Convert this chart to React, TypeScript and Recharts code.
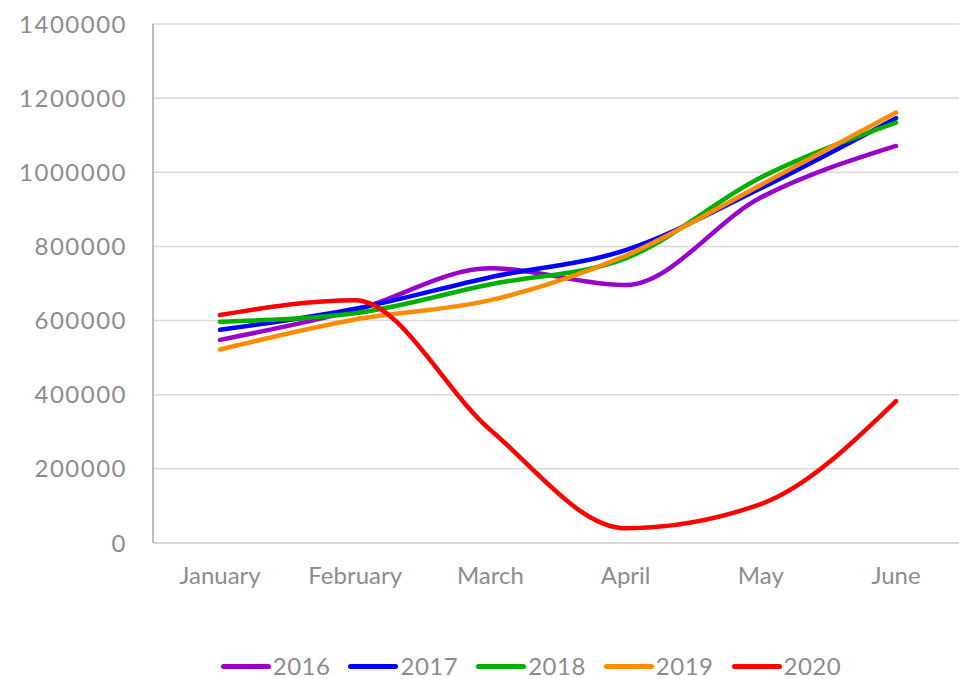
import React from 'react';
import { LineChart, Line, XAxis, YAxis, CartesianGrid } from 'recharts';

const months = ['January', 'February', 'March', 'April', 'May', 'June'];
const sales2016 = [548000, 628000, 741000, 696000, 932000, 1071000];
const sales2017 = [575000, 632000, 717000, 790000, 957000, 1146000];
const sales2018 = [597000, 620000, 698000, 768000, 986000, 1134000];
const sales2019 = [522000, 603000, 655000, 775000, 966000, 1161000];
const sales2020 = [615000, 655000, 305000, 40000, 105000, 383000];
const yTicks = [0, 200000, 400000, 600000, 800000, 1000000, 1200000, 1400000];

const series = [
  { key: '2016', values: sales2016, color: '#9900cc' },
  { key: '2017', values: sales2017, color: '#0000ff' },
  { key: '2018', values: sales2018, color: '#00b000' },
  { key: '2019', values: sales2019, color: '#ff8c00' },
  { key: '2020', values: sales2020, color: '#ff0000' },
];

const data = months.map((m, i) => {
  const row: any = { month: m };
  series.forEach(s => { row[s.key] = s.values[i]; });
  return row;
});

const FONT = 'Lato, "Open Sans", sans-serif';
const TEXT = '#8c8c8c';

const ChartLegend = () => (
  <div style={{ position: 'absolute', top: 654, left: 0, width: 1062, display: 'flex', justifyContent: 'center', fontFamily: FONT, fontSize: 24, color: TEXT }}>
    {series.map(s => (
      <div key={s.key} style={{ display: 'flex', alignItems: 'center', margin: '0 9px' }}>
        <div style={{ width: 50, height: 5, borderRadius: 3, background: s.color, marginRight: 2 }} />
        <span style={{ lineHeight: '24px', whiteSpace: 'nowrap', letterSpacing: 0.5 }}>{s.key}</span>
      </div>
    ))}
  </div>
);

export default function App() {
  return (
    <div style={{ position: 'absolute', left: 0, top: 0, width: 959, height: 679, background: '#fff', overflow: 'hidden' }}>
      <LineChart width={973} height={679} data={data} margin={{ top: 24, right: 0, left: 0, bottom: 82 }}>
        <CartesianGrid vertical={false} stroke="#d9d9d9" strokeWidth={1.5} />
        <XAxis
          dataKey="month"
          padding={{ left: 67, right: 77 }}
          axisLine={{ stroke: '#d9d9d9', strokeWidth: 2 }}
          tickLine={false}
          tickSize={0}
          tickMargin={24}
          height={54}
          tick={{ fill: TEXT, fontSize: 24, fontFamily: FONT }}
        />
        <YAxis
          domain={[0, 1400000]}
          ticks={yTicks}
          width={153}
          axisLine={{ stroke: '#a6a6a6', strokeWidth: 1.5 }}
          tickLine={false}
          tickSize={0}
          tickMargin={26}
          tick={{ fill: TEXT, fontSize: 24, fontFamily: FONT, letterSpacing: 1.5 }}
        />
        {series.map(s => (
          <Line
            key={s.key}
            type="monotone"
            dataKey={s.key}
            stroke={s.color}
            strokeWidth={4.5}
            dot={false}
            strokeLinecap="round"
            isAnimationActive={false}
          />
        ))}
      </LineChart>
      <ChartLegend />
    </div>
  );
}
